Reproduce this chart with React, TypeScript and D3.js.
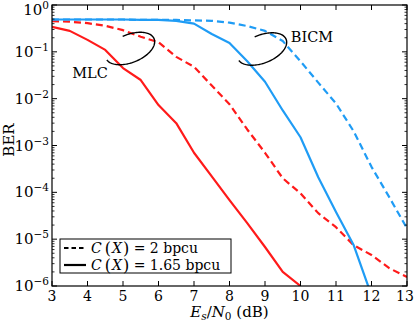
import * as d3 from "d3";

const snr = [3, 3.5, 4, 4.5, 5, 5.5, 6, 6.5, 7, 7.5, 8, 8.5, 9, 9.5, 10, 10.5, 11, 11.5, 12, 12.5, 13];

// MLC, C(X) = 1.65 bpcu (solid red)
const mlcSolid = [0.34, 0.28, 0.18, 0.11, 0.045, 0.025, 0.0073, 0.003, 7e-4, 2.2e-4, 6.8e-5, 2.2e-5, 6.8e-6, 2e-6, 1e-6];
// MLC, C(X) = 2 bpcu (dashed red)
const mlcDashed = [0.45, 0.44, 0.41, 0.36, 0.29, 0.21, 0.16, 0.078, 0.048, 0.019, 0.0076, 0.0022, 7e-4, 2e-4, 9.5e-5, 3.6e-5, 1.8e-5, 7.4e-6, 4.6e-6, 2.4e-6, 1.55e-6];
// BICM, C(X) = 1.65 bpcu (solid blue)
const bicmSolid = [0.49, 0.49, 0.49, 0.49, 0.49, 0.48, 0.48, 0.46, 0.4, 0.24, 0.155, 0.063, 0.023, 0.0056, 1.5e-3, 2.1e-4, 3.8e-5, 7.4e-6, 6.3e-7];
// BICM, C(X) = 2 bpcu (dashed blue)
const bicmDashed = [0.49, 0.49, 0.49, 0.49, 0.49, 0.48, 0.48, 0.48, 0.47, 0.46, 0.42, 0.355, 0.28, 0.17, 0.063, 0.022, 0.0079, 0.002, 3.5e-4, 7.9e-5, 1.7e-5];

const xTicks = [3, 4, 5, 6, 7, 8, 9, 10, 11, 12, 13];
const yExps = [0, -1, -2, -3, -4, -5, -6];

const RED = "#ff1a1a";
const BLUE = "#1f9cf5";
const FONT = "DejaVu Serif";

const W = 415, H = 324;
const L = 52, R = 407, T = 5, B = 286;

export default function App() {
  const x = d3.scaleLinear().domain([3, 13]).range([L, R]);
  const y = d3.scaleLog().domain([1e-6, 1]).range([B, T]);

  const line = d3
    .line<number>()
    .x((_, i) => x(snr[i]))
    .y((d) => y(d));

  const series = [
    { data: mlcDashed, color: RED, dash: "7,4" },
    { data: bicmDashed, color: BLUE, dash: "7,4" },
    { data: mlcSolid, color: RED, dash: null },
    { data: bicmSolid, color: BLUE, dash: null },
  ];

  const minor: number[] = [];
  for (let e = -6; e < 0; e++) for (let m = 2; m <= 9; m++) minor.push(m * Math.pow(10, e));

  // open ellipse annotations
  const arc = (cx: number, cy: number, rx: number, ry: number, rot: number) => {
    const a = (rot * Math.PI) / 180;
    const pts: [number, number][] = [];
    for (let t = -95; t <= 172; t += 3) {
      const r = (t * Math.PI) / 180;
      const px = rx * Math.cos(r), py = ry * Math.sin(r);
      pts.push([cx + px * Math.cos(a) - py * Math.sin(a), cy + px * Math.sin(a) + py * Math.cos(a)]);
    }
    return d3.line()(pts) || "";
  };

  const txt = { fontFamily: FONT } as const;

  return (
    <svg width={W} height={H} style={{ position: "absolute", left: 0, top: 0, fontFamily: FONT }}>
      <defs>
        <clipPath id="plot">
          <rect x={L} y={T} width={R - L} height={B - T} />
        </clipPath>
      </defs>
      <rect x={0} y={0} width={W} height={H} fill="#fff" />

      <g clipPath="url(#plot)">
        {series.map((s, i) => (
          <path
            key={i}
            d={line(s.data) || ""}
            fill="none"
            stroke={s.color}
            strokeWidth={2.2}
            strokeDasharray={s.dash || undefined}
            strokeLinejoin="round"
          />
        ))}
      </g>

      <path d={arc(130, 48.5, 26, 14, -22)} fill="none" stroke="#000" strokeWidth={1.4} />
      <path d={arc(262, 49, 26, 14, -22)} fill="none" stroke="#000" strokeWidth={1.4} />
      <text style={txt} x={90} y={78} fontSize={14.5} textAnchor="middle">MLC</text>
      <text style={txt} x={312} y={42} fontSize={14.5} textAnchor="middle">BICM</text>

      {/* frame and ticks */}
      <rect x={L} y={T} width={R - L} height={B - T} fill="none" stroke="#000" strokeWidth={1.2} />
      {xTicks.map((t) => (
        <g key={"x" + t}>
          <line x1={x(t)} x2={x(t)} y1={B} y2={B - 5} stroke="#000" />
          <line x1={x(t)} x2={x(t)} y1={T} y2={T + 5} stroke="#000" />
          <text style={txt} x={Math.min(x(t), 405)} y={B + 15} fontSize={14} textAnchor="middle">{t}</text>
        </g>
      ))}
      {yExps.map((e) => (
        <g key={"y" + e}>
          <line x1={L} x2={L + 5} y1={y(Math.pow(10, e))} y2={y(Math.pow(10, e))} stroke="#000" />
          <line x1={R} x2={R - 5} y1={y(Math.pow(10, e))} y2={y(Math.pow(10, e))} stroke="#000" />
          <text style={txt} x={L - 3} y={Math.max(y(Math.pow(10, e)) + 5, 15)} fontSize={15} textAnchor="end">
            10
            <tspan fontSize={10.5} dy={-6}>{e === 0 ? "0" : "\u2212" + -e}</tspan>
          </text>
        </g>
      ))}
      {minor.map((v, i) => (
        <g key={"m" + i}>
          <line x1={L} x2={L + 2.5} y1={y(v)} y2={y(v)} stroke="#000" strokeWidth={0.8} />
          <line x1={R} x2={R - 2.5} y1={y(v)} y2={y(v)} stroke="#000" strokeWidth={0.8} />
        </g>
      ))}

      {/* axis labels */}
      <text style={txt} x={(L + R) / 2} y={317} fontSize={15} textAnchor="middle">
        <tspan fontStyle="italic">E</tspan>
        <tspan fontStyle="italic" fontSize={10.5} dy={3}>s</tspan>
        <tspan dy={-3}>/</tspan>
        <tspan fontStyle="italic">N</tspan>
        <tspan fontSize={10.5} dy={3}>0</tspan>
        <tspan dy={-3}> (dB)</tspan>
      </text>
      <text style={txt} transform="translate(14,140) rotate(-90)" fontSize={15} textAnchor="middle">BER</text>

      {/* legend */}
      <rect x={60} y={239} width={171} height={34} fill="#fff" stroke="#000" strokeWidth={1} />
      <line x1={64} x2={86} y1={248} y2={248} stroke="#000" strokeWidth={2.2} strokeDasharray="4.5,3" />
      <line x1={64} x2={86} y1={265} y2={265} stroke="#000" strokeWidth={2.2} />
      {["2", "1.65"].map((c, i) => (
        <text style={txt} key={c} x={91} y={253 + i * 17} fontSize={14}>
          <tspan fontStyle="italic">C</tspan>
          <tspan dx={3} fontSize={16} dy={1}>(</tspan>
          <tspan fontStyle="italic" dx={1} dy={-1}>X</tspan>
          <tspan fontSize={16} dx={1} dy={1}>)</tspan>
          <tspan dy={-1}>{" = " + c + " bpcu"}</tspan>
        </text>
      ))}
    </svg>
  );
}
